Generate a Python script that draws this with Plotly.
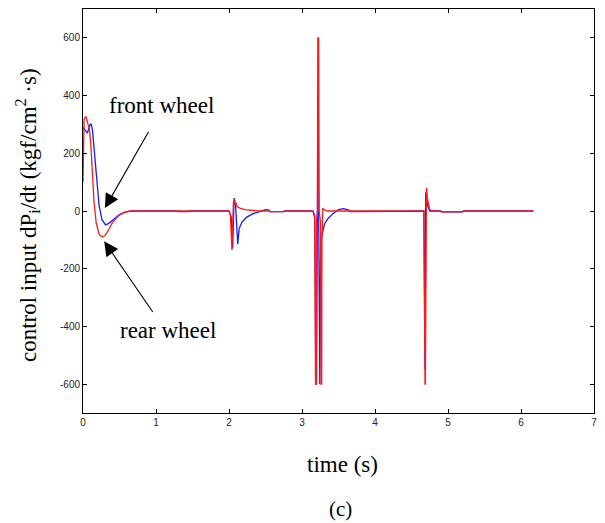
import plotly.graph_objects as go

# time (s) and control input (kgf/cm^2·s) for the front wheel (blue)
front_t = [0, 0.03, 0.06, 0.09, 0.11, 0.13, 0.16, 0.19, 0.22, 0.26, 0.31, 0.36, 0.42, 0.5, 0.6, 0.7,
           1.3, 1.31, 1.45, 1.46, 2.0, 2.03, 2.05, 2.07, 2.09, 2.12, 2.14, 2.18, 2.24, 2.32, 2.42, 2.5,
           2.55, 2.56, 2.75, 2.76, 3.15, 3.175, 3.19, 3.2, 3.21, 3.22, 3.228, 3.234, 3.244, 3.255, 3.275,
           3.31, 3.36, 3.42, 3.5, 3.57, 3.65, 3.66, 3.85, 3.86, 4.67, 4.685, 4.695, 4.72, 4.75,
           4.9, 4.91, 5.2, 5.21, 6.17]
front_v = [290, 280, 270, 295, 303, 280, 190, 90, 20, -30, -48, -42, -28, -12, -2, 0,
           0, -2, -2, 0, 0, -20, -130, 45, 20, -115, -60, -38, -22, -10, -2, 5,
           3, -2, -2, 0, 0, -25, -600, -600, 0, 600, 0, -600, -600, -120, -80,
           -45, -25, -10, 5, 8, 2, -2, -2, 0, 0, -550, 65, 20, 0,
           0, -3, -3, 0, 0]

# rear wheel (red)
rear_t = [0, 0.015, 0.04, 0.07, 0.09, 0.11, 0.13, 0.15, 0.18, 0.22, 0.26, 0.3, 0.34, 0.4, 0.48, 0.56, 0.65,
          1.3, 1.31, 1.45, 1.46, 2.0, 2.02, 2.04, 2.06, 2.075, 2.085, 2.1, 2.11, 2.15, 2.22, 2.3, 2.4,
          2.55, 2.56, 2.75, 2.76, 3.15, 3.175, 3.185, 3.195, 3.2, 3.215, 3.222, 3.228, 3.235, 3.255,
          3.262, 3.27, 3.273, 3.28, 3.285, 3.3, 3.35, 3.65, 3.66, 3.85, 3.86,
          4.67, 4.685, 4.69, 4.705, 4.72, 4.75, 4.8, 4.9, 4.91, 5.2, 5.21, 6.17]
rear_v = [100, 320, 328, 300, 280, 220, 120, 35, -40, -80, -90, -85, -70, -42, -18, -5, 0,
          0, -2, -2, 0, 0, -15, -135, 30, 40, 20, 28, 15, 10, 5, 2, 0,
          0, -2, -2, 0, 0, -15, -600, -600, -30, 0, 600, 600, 0, -40,
          -600, -600, -90, -60, 10, 5, 0, 0, -2, -2, 0,
          0, -600, -600, 80, 40, 5, 0, 0, -3, -3, 0, 0]

x_ticks = [0, 1, 2, 3, 4, 5, 6, 7]
y_ticks = [-600, -400, -200, 0, 200, 400, 600]

serif = "Liberation Serif, Times New Roman, serif"
sans = "Liberation Sans, Arial, sans-serif"

fig = go.Figure()
fig.add_trace(go.Scatter(x=front_t, y=front_v, mode="lines", line=dict(color="#1a1aff", width=1.3),
                         name="front wheel", showlegend=False))
fig.add_trace(go.Scatter(x=rear_t, y=rear_v, mode="lines", line=dict(color="#ff1a1a", width=1.3),
                         name="rear wheel", showlegend=False))

axis_common = dict(showgrid=False, zeroline=False, showline=True, linecolor="black", linewidth=1,
                   mirror="ticks", ticks="inside", ticklen=4, tickcolor="black",
                   tickfont=dict(family=sans, size=10, color="#222"))
fig.update_xaxes(range=[0, 7], tickvals=x_ticks, ticktext=[str(v) for v in x_ticks], **axis_common)
fig.update_yaxes(range=[-700, 700], tickvals=y_ticks, ticktext=[str(v) for v in y_ticks], **axis_common)

fig.add_annotation(x=0.30, y=10, ax=0.91, ay=280, xref="x", yref="y", axref="x", ayref="y",
                   text="", showarrow=True, arrowhead=2, arrowsize=2.6, arrowwidth=1.1, arrowcolor="black")
fig.add_annotation(x=0.29, y=-105, ax=0.97, ay=-355, xref="x", yref="y", axref="x", ayref="y",
                   text="", showarrow=True, arrowhead=2, arrowsize=2.6, arrowwidth=1.1, arrowcolor="black")
fig.add_annotation(x=1.07, y=365, xref="x", yref="y", text="front wheel", showarrow=False,
                   font=dict(family=serif, size=23, color="black"))
fig.add_annotation(x=1.17, y=-415, xref="x", yref="y", text="rear wheel", showarrow=False,
                   font=dict(family=serif, size=23, color="black"))

fig.add_annotation(x=0, xref="paper", xanchor="center", xshift=-56, y=0.49, yref="paper",
                   text="control input dP<sub>i</sub>/dt (kgf/cm<sup>2</sup> ·s)", textangle=-90,
                   showarrow=False, font=dict(family=serif, size=23, color="black"))
fig.add_annotation(x=0.507, xref="paper", y=0, yref="paper", yanchor="middle", yshift=-51,
                   text="time (s)", showarrow=False, font=dict(family=serif, size=23, color="black"))
fig.add_annotation(x=0.503, xref="paper", y=0, yref="paper", yanchor="middle", yshift=-96,
                   text="(c)", showarrow=False, font=dict(family=serif, size=21, color="black"))

fig.update_layout(width=605, height=523, margin=dict(l=83, r=8, t=9, b=110),
                  plot_bgcolor="white", paper_bgcolor="white")
fig.write_html("out.html")
